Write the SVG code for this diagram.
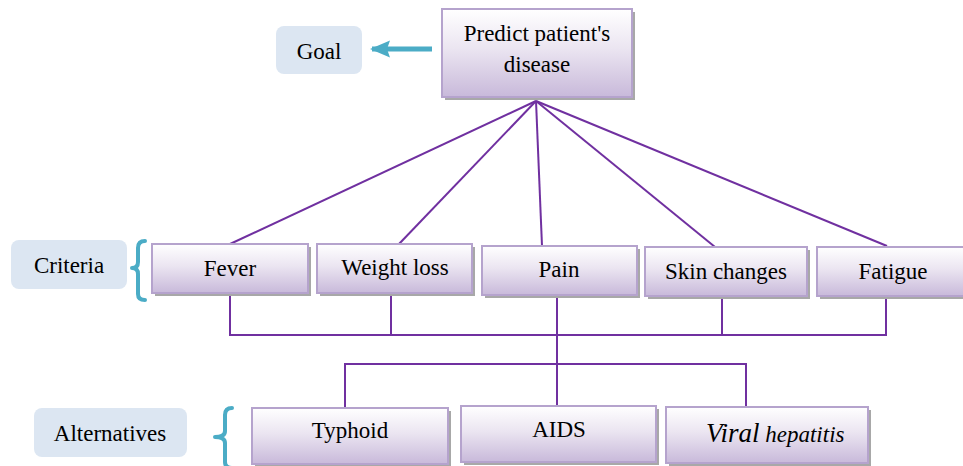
<svg xmlns="http://www.w3.org/2000/svg" width="963" height="466" viewBox="0 0 963 466">
<style>
.box{fill:url(#g);stroke:#b5a3cd;stroke-width:2}
.sh{fill:#a8a8a8}
.lbl{fill:#dce6f2}
.t{font-family:'Liberation Serif','Tinos','Times New Roman','DejaVu Serif',serif;font-size:23px;fill:#000}
.c{text-anchor:middle}
.ln{stroke:#7030a0;stroke-width:2;fill:none}
.br{stroke:#4bacc6;stroke-width:4;fill:none;stroke-linecap:round;stroke-linejoin:round}
</style>
<defs>
<linearGradient id="g" x1="0" y1="0" x2="0" y2="1">
<stop offset="0" stop-color="#ffffff"/>
<stop offset="0.45" stop-color="#ebe5f1"/>
<stop offset="1" stop-color="#c8b9da"/>
</linearGradient>
<marker id="ah" markerWidth="4" markerHeight="4" refX="3.6" refY="2" orient="auto" markerUnits="strokeWidth" viewBox="0 0 4 4">
<path d="M0,0.3 L4,2 L0,3.7 L0.6,2 Z" fill="#4bacc6"/>
</marker>
</defs>

<g id="connectors">
<line class="ln" x1="536" y1="101" x2="230" y2="244"/>
<line class="ln" x1="536" y1="101" x2="399" y2="244"/>
<line class="ln" x1="536" y1="101" x2="542" y2="246"/>
<line class="ln" x1="536" y1="101" x2="715" y2="247"/>
<line class="ln" x1="536" y1="101" x2="887" y2="246"/>
<polyline class="ln" points="230,294 230,335 886,335 886,297"/>
<line class="ln" x1="391" y1="295" x2="391" y2="335"/>
<line class="ln" x1="557" y1="296" x2="557" y2="406"/>
<line class="ln" x1="722" y1="297" x2="722" y2="335"/>
<polyline class="ln" points="345,408 345,364 746,364 746,407"/>
<line x1="432" y1="49" x2="372" y2="49" stroke="#4bacc6" stroke-width="5" marker-end="url(#ah)"/>
</g>

<g id="goal-label">
<rect class="lbl" x="276" y="26" width="86" height="48" rx="8"/>
<text class="t c" x="319" y="59">Goal</text>
</g>
<g id="criteria-label">
<rect class="lbl" x="11" y="240" width="116" height="49" rx="8"/>
<text class="t c" x="69" y="273">Criteria</text>
<path class="br" d="M145,241 Q138,241 138,248 L138,262 Q138,268 132,268 Q138,268 138,274 L138,294 Q138,300 145,300"/>
</g>
<g id="alternatives-label">
<rect class="lbl" x="34" y="408" width="153" height="49" rx="8"/>
<text class="t c" x="110" y="441">Alternatives</text>
<path class="br" d="M232,408 Q225,408 225,415 L225,431 Q225,437 215,437 Q225,437 225,443 L225,462 Q225,468 232,468"/>
</g>

<g id="predict">
<rect class="sh" x="445" y="12" width="190" height="88"/>
<rect class="box" x="442" y="9" width="190" height="88"/>
<text class="t c" x="537" y="41">Predict patient's</text>
<text class="t c" x="537" y="72">disease</text>
</g>
<g id="fever">
<rect class="sh" x="155" y="247" width="156" height="49"/>
<rect class="box" x="152" y="244" width="156" height="49"/>
<text class="t c" x="230" y="276">Fever</text>
</g>
<g id="weight-loss">
<rect class="sh" x="320" y="247" width="155" height="49"/>
<rect class="box" x="317" y="244" width="155" height="49"/>
<text class="t c" x="395" y="275">Weight loss</text>
</g>
<g id="pain">
<rect class="sh" x="485" y="249" width="155" height="49"/>
<rect class="box" x="482" y="246" width="155" height="49"/>
<text class="t c" x="559" y="277">Pain</text>
</g>
<g id="skin-changes">
<rect class="sh" x="648" y="250" width="162" height="49"/>
<rect class="box" x="645" y="247" width="162" height="49"/>
<text class="t c" x="726" y="279">Skin changes</text>
</g>
<g id="fatigue">
<rect class="sh" x="820" y="250" width="150" height="49"/>
<rect class="box" x="817" y="247" width="150" height="49"/>
<text class="t c" x="893" y="279">Fatigue</text>
</g>
<g id="typhoid">
<rect class="sh" x="255" y="411" width="196" height="56"/>
<rect class="box" x="252" y="408" width="196" height="56"/>
<text class="t c" x="350" y="438">Typhoid</text>
</g>
<g id="aids">
<rect class="sh" x="464" y="409" width="195" height="56"/>
<rect class="box" x="461" y="406" width="195" height="56"/>
<text class="t c" x="559" y="437">AIDS</text>
</g>
<g id="viral-hepatitis">
<rect class="sh" x="669" y="410" width="202" height="56"/>
<rect class="box" x="666" y="407" width="202" height="56"/>
<text class="t" x="706" y="442" font-style="italic"><tspan font-size="27">Viral</tspan> hepatitis</text>
</g>
</svg>
